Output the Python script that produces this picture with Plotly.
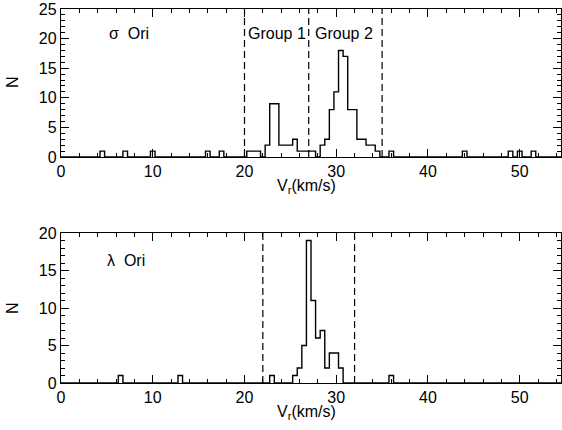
import numpy as np
import plotly.graph_objects as go

# ---- data ----
bin_width = 0.5
sigma_centers = [4.5, 7, 10, 16, 17.5, 20.5, 21, 21.5, 22.5, 23, 23.5, 24, 24.5, 25, 25.5,
                 26, 26.5, 27, 27.5, 28.5, 29, 29.5, 30, 30.5, 31, 31.5, 32, 32.5, 33, 33.5,
                 34, 34.5, 36, 44, 49, 50, 51.5]
sigma_counts = [1, 1, 1, 1, 1, 1, 1, 1, 2, 9, 9, 2, 2, 2, 3,
                1, 1, 1, 1, 2, 3, 8, 11, 18, 17, 8, 8, 3, 3, 2,
                2, 1, 1, 1, 1, 1, 1]
lambda_centers = [6.5, 13, 23, 25.5, 26, 26.5, 27, 27.5, 28, 28.5, 29, 29.5, 30, 30.5, 36]
lambda_counts = [1, 1, 1, 1, 2, 5, 19, 11, 6, 7, 2, 4, 4, 2, 1]
sigma_group_edges = [20, 27, 35]
lambda_group_edges = [22, 32]
group_labels = ["Group 1", "Group 2"]
x_ticks = [0, 10, 20, 30, 40, 50]
sigma_yticks = [0, 5, 10, 15, 20, 25]
lambda_yticks = [0, 5, 10, 15, 20]


def full_hist(centers, counts):
    grid = np.round(np.arange(0, 55.0 + 1e-9, bin_width), 2)
    lut = {round(c, 2): n for c, n in zip(centers, counts)}
    return grid, [lut.get(round(g, 2), 0) for g in grid]


FONT = "Liberation Sans"
W, H = 562, 430
T, B = 9, 47
PH = H - T - B


def py(pixel):
    return (H - B - pixel) / PH


fig = go.Figure()

gx, gy = full_hist(sigma_centers, sigma_counts)
fig.add_trace(go.Scatter(x=gx, y=gy, mode="lines", line=dict(color="black", width=1.4, shape="hvh"),
                         xaxis="x", yaxis="y", showlegend=False, hoverinfo="skip"))
gx2, gy2 = full_hist(lambda_centers, lambda_counts)
fig.add_trace(go.Scatter(x=gx2, y=gy2, mode="lines", line=dict(color="black", width=1.4, shape="hvh"),
                         xaxis="x2", yaxis="y2", showlegend=False, hoverinfo="skip"))

for e in sigma_group_edges:
    fig.add_shape(type="line", xref="x", yref="y domain", x0=e, x1=e, y0=0, y1=1,
                  line=dict(color="black", width=1.2, dash="7px,4px"))
for e in lambda_group_edges:
    fig.add_shape(type="line", xref="x2", yref="y2 domain", x0=e, x1=e, y0=0, y1=1,
                  line=dict(color="black", width=1.2, dash="7px,4px"))

tf = dict(family=FONT, size=16, color="black")
fig.add_annotation(x=5.0, y=20.8, xref="x", yref="y", text="σ  Ori", showarrow=False,
                   xanchor="left", yanchor="middle", font=tf)
fig.add_annotation(x=sigma_group_edges[0] + 0.15, y=20.8, xref="x", yref="y", text=group_labels[0],
                   showarrow=False, xanchor="left", yanchor="middle", font=tf)
fig.add_annotation(x=sigma_group_edges[1] + 0.45, y=20.8, xref="x", yref="y", text=group_labels[1],
                   showarrow=False, xanchor="left", yanchor="middle", font=tf)
fig.add_annotation(x=4.8, y=16.4, xref="x2", yref="y2", text="λ  Ori", showarrow=False,
                   xanchor="left", yanchor="middle", font=tf)

# axis titles placed as annotations for precise positioning
for ypix in (186, 412):
    fig.add_annotation(x=0.49, y=py(ypix), xref="paper", yref="paper", text="V<sub>r</sub>(km/s)",
                       showarrow=False, xanchor="center", yanchor="middle", font=tf)
for ypix in (82, 308):
    fig.add_annotation(x=-49 / 500, y=py(ypix), xref="paper", yref="paper", text="N",
                       showarrow=False, xanchor="center", yanchor="middle", textangle=-90, font=tf)

axis_common = dict(showline=True, linecolor="black", linewidth=1.3, mirror="allticks",
                   ticks="inside", ticklen=8, tickwidth=1.2, tickcolor="black",
                   showgrid=False, zeroline=False, tickfont=tf)
xcommon = dict(axis_common, range=[0, 54.5], tickvals=x_ticks,
               minor=dict(dtick=2, ticks="inside", ticklen=4, tickcolor="black", tickwidth=1))
ycommon = dict(axis_common,
               minor=dict(dtick=1, ticks="inside", ticklen=4, tickcolor="black", tickwidth=1))

fig.update_layout(
    width=W, height=H,
    margin=dict(l=61, r=1, t=T, b=B),
    paper_bgcolor="white", plot_bgcolor="white",
    font=tf,
    xaxis=dict(xcommon, domain=[0, 1], anchor="y"),
    yaxis=dict(ycommon, domain=[py(157), 1], anchor="x", range=[0, 25], tickvals=sigma_yticks),
    xaxis2=dict(xcommon, domain=[0, 1], anchor="y2"),
    yaxis2=dict(ycommon, domain=[0, py(233)], anchor="x2", range=[0, 20], tickvals=lambda_yticks),
)

fig.write_html("out.html")
